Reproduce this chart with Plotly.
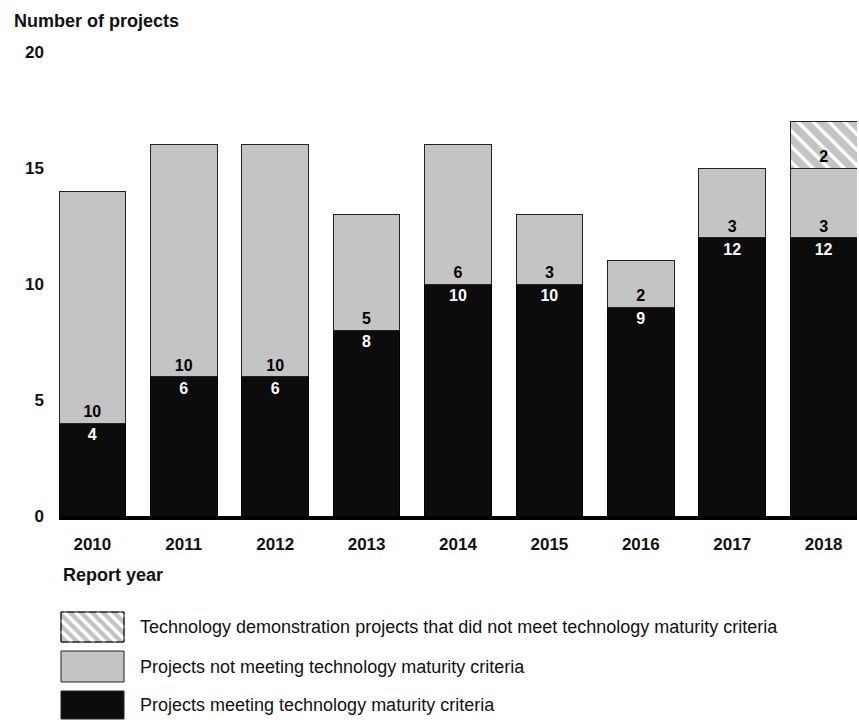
import plotly.graph_objects as go

years = ["2010", "2011", "2012", "2013", "2014", "2015", "2016", "2017", "2018"]
meeting = [4, 6, 6, 8, 10, 10, 9, 12, 12]
not_meeting = [10, 10, 10, 5, 6, 3, 2, 3, 3]
demo_not_meeting = [None, None, None, None, None, None, None, None, 2]
y_ticks = [0, 5, 10, 15, 20]

legend_labels = [
    "Technology demonstration projects that did not meet technology maturity criteria",
    "Projects not meeting technology maturity criteria",
    "Projects meeting technology maturity criteria",
]

FONT = "Liberation Sans, Arial, sans-serif"
BLACK = "#0c0c0c"
GRAY = "#c4c4c4"

W, H = 859, 720
PX0, PX1 = 59, 857
PY0, PY1 = 52, 516


def px(x):
    return (x - PX0) / (PX1 - PX0)


def py(y):
    return (PY1 - y) / (PY1 - PY0)


fig = go.Figure()
common = dict(
    textposition="inside",
    textangle=0,
    constraintext="none",
    texttemplate="%{y}",
    hoverinfo="skip",
)
fig.add_bar(
    x=years, y=meeting, name=legend_labels[2],
    marker=dict(color=BLACK, line=dict(color="#000", width=1)),
    insidetextanchor="end",
    textfont=dict(family=FONT, size=16, color="white", weight="bold"),
    **common,
)
fig.add_bar(
    x=years, y=not_meeting, name=legend_labels[1],
    marker=dict(color=GRAY, line=dict(color="#222", width=1)),
    insidetextanchor="start",
    textfont=dict(family=FONT, size=16, color="black", weight="bold"),
    **common,
)
fig.add_bar(
    x=years, y=demo_not_meeting, name=legend_labels[0],
    marker=dict(
        color=GRAY, line=dict(color="#222", width=1),
        pattern=dict(shape="\\", bgcolor=GRAY, fgcolor="white", size=11, solidity=0.3, fillmode="replace"),
    ),
    insidetextanchor="start",
    textfont=dict(family=FONT, size=16, color="black", weight="bold"),
    **common,
)

shapes = []
annotations = []

# custom legend
boxes = [(612, 642), (651, 682), (691, 719)]
bx0, bx1 = 61, 124
fills = [GRAY, GRAY, BLACK]
for i, ((y0, y1), fc) in enumerate(zip(boxes, fills)):
    shapes.append(dict(type="rect", xref="paper", yref="paper",
                       x0=px(bx0), x1=px(bx1), y0=py(y1), y1=py(y0),
                       fillcolor=fc, line=dict(color="#222", width=1), layer="above"))
    if i == 0:
        step = 11
        c = bx0 - (y1 - y0)
        while c < bx1:
            xs, ys = c, y0
            xe, ye = c + (y1 - y0), y1
            if xs < bx0:
                ys = y0 + (bx0 - c)
                xs = bx0
            if xe > bx1:
                ye = y0 + (bx1 - c)
                xe = bx1
            if xe > xs:
                shapes.append(dict(type="line", xref="paper", yref="paper",
                                   x0=px(xs), y0=py(ys), x1=px(xe), y1=py(ye),
                                   line=dict(color="white", width=3.5), layer="above"))
            c += step
        shapes.append(dict(type="rect", xref="paper", yref="paper",
                           x0=px(bx0), x1=px(bx1), y0=py(y1), y1=py(y0),
                           fillcolor="rgba(0,0,0,0)", line=dict(color="#222", width=1), layer="above"))
    annotations.append(dict(xref="paper", yref="paper", x=px(138), y=py((y0 + y1) / 2),
                            xanchor="left", yanchor="middle", showarrow=False,
                            text=legend_labels[i],
                            font=dict(family=FONT, size=18, color="#111")))

annotations.append(dict(xref="paper", yref="paper", x=px(12), y=py(21),
                        xanchor="left", yanchor="middle", showarrow=False,
                        text="<b>Number of projects</b>",
                        font=dict(family=FONT, size=18, color="#111")))
annotations.append(dict(xref="paper", yref="paper", x=px(61), y=py(575),
                        xanchor="left", yanchor="middle", showarrow=False,
                        text="<b>Report year</b>",
                        font=dict(family=FONT, size=18, color="#111")))

fig.update_layout(
    width=W, height=H,
    margin=dict(l=PX0, r=W - PX1, t=PY0, b=H - PY1),
    barmode="stack", bargap=0.27,
    plot_bgcolor="white", paper_bgcolor="white",
    showlegend=False,
    shapes=shapes, annotations=annotations,
    font=dict(family=FONT, color="#111"),
)
fig.update_xaxes(
    type="category", range=[-0.365, 8.365],
    showline=True, linecolor="black", linewidth=4,
    showgrid=False, ticks="", ticklabelstandoff=10,
    tickfont=dict(family=FONT, size=17, color="#111", weight="bold"),
)
fig.update_yaxes(
    range=[0, 20], tickvals=y_ticks, showgrid=False, zeroline=False,
    showline=False, ticks="", ticklabelstandoff=14,
    tickfont=dict(family=FONT, size=17, color="#111", weight="bold"),
)

fig.write_html(
    "out.html",
    config={"displayModeBar": False},
    post_script="document.body.style.margin='0';document.body.style.overflow='hidden';",
)
